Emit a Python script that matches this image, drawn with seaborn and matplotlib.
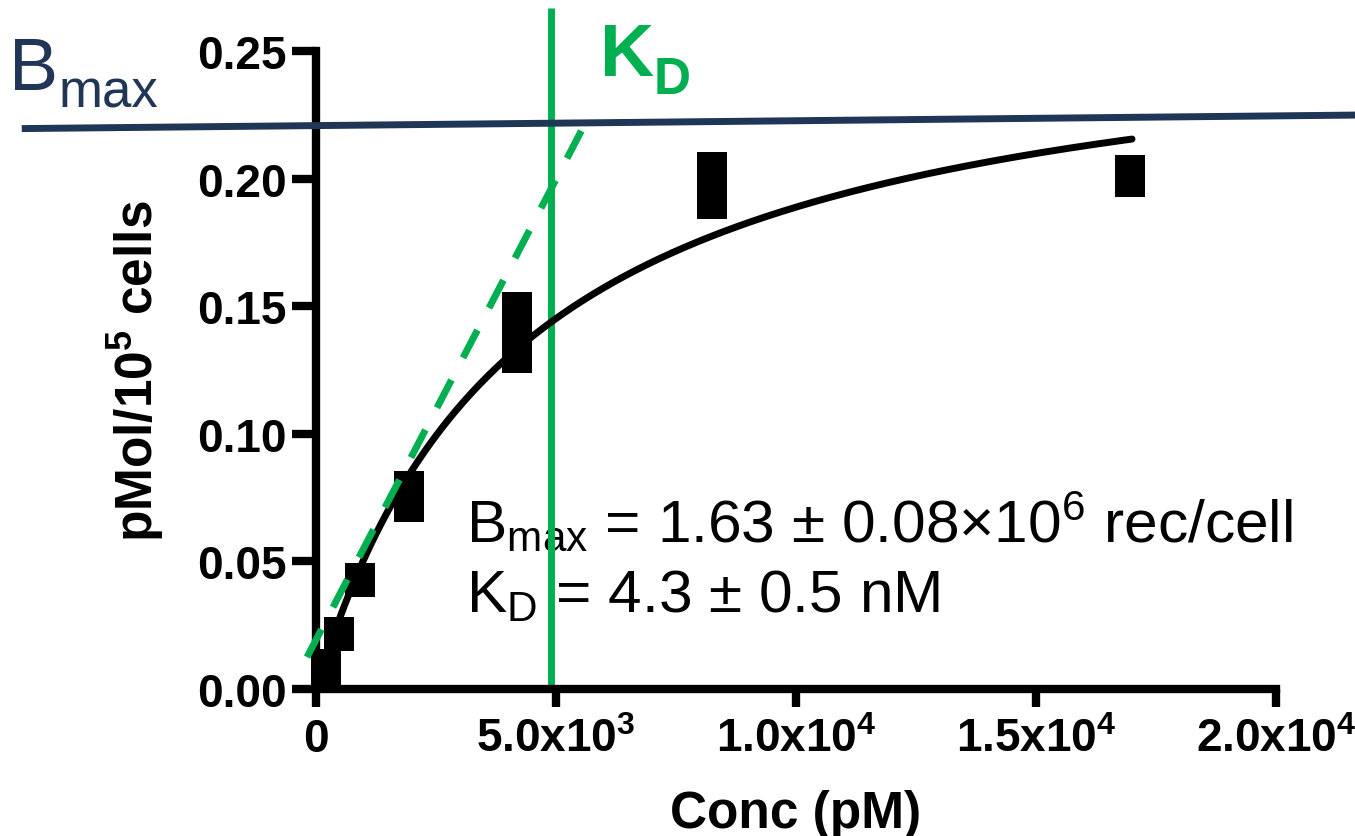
import numpy as np
import pandas as pd
import matplotlib
matplotlib.use("Agg")
import matplotlib.pyplot as plt
from matplotlib.path import Path
from matplotlib.ticker import FormatStrFormatter
import seaborn as sns

# Saturation binding data (concentration in pM, specific binding in pMol/10^5 cells)
conc = [210, 210, 470, 920, 1930, 1930, 4190, 4190, 4190, 8250, 8250, 16950, 16950]
bound = [0.0090, 0.0066, 0.0216, 0.0427, 0.0788, 0.0721,
         0.1489, 0.1438, 0.1304, 0.2038, 0.1908, 0.2026, 0.1994]

# One-site fit parameters
fit_bmax = 0.27      # pMol/10^5 cells
fit_kd = 4300.0      # pM
curve_max_conc = 17000.0

# Guide lines
bmax_line_x = [-6130, 21700]
bmax_line_y = [0.2196, 0.2249]
kd_line_x = [4900, 4900]
kd_line_y = [0.0, 0.2668]
slope_line_x = [-188, 5527]
slope_line_y = [0.0125, 0.2187]

x_ticks = [0, 5000, 10000, 15000, 20000]
x_tick_labels = ["0", "5.0x10$^{3}$", "1.0x10$^{4}$", "1.5x10$^{4}$", "2.0x10$^{4}$"]
y_ticks = [0.00, 0.05, 0.10, 0.15, 0.20, 0.25]

GREEN = "#00B050"
NAVY = "#1F3657"

sns.set_style("ticks")
plt.rcParams["font.family"] = ["Liberation Sans", "DejaVu Sans"]
plt.rcParams["mathtext.fontset"] = "custom"
plt.rcParams["mathtext.rm"] = "Liberation Sans"
plt.rcParams["mathtext.bf"] = "Liberation Sans:bold"
plt.rcParams["mathtext.default"] = "regular"
for key in ("text.color", "axes.labelcolor", "xtick.color", "ytick.color",
            "xtick.labelcolor", "ytick.labelcolor"):
    plt.rcParams[key] = "black"

W, H = 1355, 837
fig = plt.figure(figsize=(W / 100, H / 100), dpi=100)
ax = fig.add_axes([316 / W, 147 / H, 960 / W, 638 / H])

# Tall rectangular symbols
hw = 29 / 34
rect = Path([(-hw, -1), (hw, -1), (hw, 1), (-hw, 1), (-hw, -1)],
            [Path.MOVETO, Path.LINETO, Path.LINETO, Path.LINETO, Path.CLOSEPOLY])

df = pd.DataFrame({"conc": conc, "bound": bound})
sns.scatterplot(data=df, x="conc", y="bound", marker=rect, s=600, color="black",
                edgecolor="black", linewidth=0, ax=ax, clip_on=False, zorder=3,
                legend=False)

# Fitted hyperbola
curve_x = np.linspace(0, curve_max_conc, 400)
curve_y = fit_bmax * curve_x / (fit_kd + curve_x)
sns.lineplot(x=curve_x, y=curve_y, color="black", linewidth=5, ax=ax,
             zorder=4, clip_on=False)

# Initial-slope guide, K_D marker and B_max level
ax.plot(slope_line_x, slope_line_y, color=GREEN, linewidth=5,
        dashes=(4.5, 3.6), clip_on=False, zorder=5)
ax.plot(kd_line_x, kd_line_y, color=GREEN, linewidth=5, clip_on=False,
        zorder=2, solid_capstyle="butt")
ax.plot(bmax_line_x, bmax_line_y, color=NAVY, linewidth=5, clip_on=False,
        zorder=6, solid_capstyle="butt")

ax.set_xlim(0, 20000)
ax.set_ylim(0, 0.25)
ax.set_xticks(x_ticks)
ax.set_xticklabels(x_tick_labels)
ax.set_yticks(y_ticks)
ax.yaxis.set_major_formatter(FormatStrFormatter("%.2f"))

sns.despine(ax=ax)
ax.spines["left"].set_bounds(0, 0.25)
ax.spines["bottom"].set_bounds(0, 20000)
for side in ("left", "bottom"):
    ax.spines[side].set_linewidth(6)
    ax.spines[side].set_color("black")

ax.tick_params(axis="y", length=17, width=6, pad=4, labelsize=33,
               color="black", labelcolor="black")
ax.tick_params(axis="x", length=13, width=6, pad=7, labelsize=33,
               color="black", labelcolor="black")
for lab in ax.get_xticklabels() + ax.get_yticklabels():
    lab.set_fontweight("bold")

ax.set_xlabel("Conc (pM)", fontsize=37, fontweight="bold", labelpad=20)
ax.set_ylabel("pMol/10$^{5}$ cells", fontsize=37, fontweight="bold", labelpad=22)

# Fit results
ax.text(3120, 0.058, "B$_{max}$ = 1.63 ± 0.08×10$^{6}$ rec/cell",
        fontsize=43.5, ha="left", va="baseline", color="black", zorder=1)
ax.text(3120, 0.0302, "K$_{D}$ = 4.3 ± 0.5 nM",
        fontsize=43.5, ha="left", va="baseline", color="black", zorder=1)

# Guide labels (main letter and subscript placed separately)
fig.text(9 / W, 1 - 90 / H, "B", fontsize=53, color=NAVY, ha="left", va="baseline")
fig.text(59 / W, 1 - 107 / H, "max", fontsize=38, color=NAVY, ha="left", va="baseline")
fig.text(600 / W, 1 - 76 / H, "K", fontsize=54, color=GREEN,
         fontweight="bold", ha="left", va="baseline")
fig.text(654 / W, 1 - 94 / H, "D", fontsize=37, color=GREEN,
         fontweight="bold", ha="left", va="baseline")

fig.savefig("out.png", dpi=100)
